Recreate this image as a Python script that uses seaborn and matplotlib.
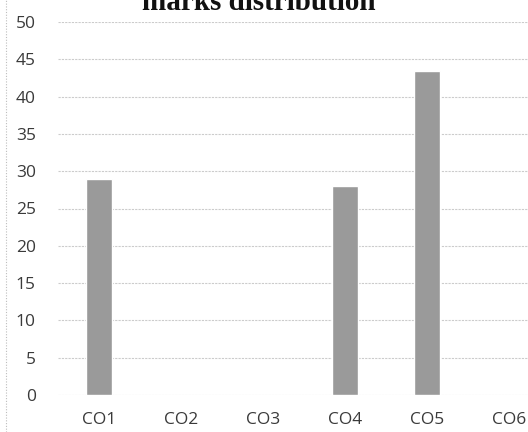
import matplotlib
matplotlib.use("Agg")
import matplotlib.pyplot as plt
import seaborn as sns
import pandas as pd
from matplotlib.lines import Line2D

categories = ["CO1", "CO2", "CO3", "CO4", "CO5", "CO6"]
values = [29, 0, 0, 28, 43.4, 0]
yticks = [0, 5, 10, 15, 20, 25, 30, 35, 40, 45, 50]
title = "marks distribution"

sns.set_theme(style="white")
plt.rcParams['font.family'] = ['Open Sans', 'DejaVu Sans']

df = pd.DataFrame({"CO": categories, "marks": values})

fig = plt.figure(figsize=(5.28, 4.32), dpi=100)
ax = fig.add_axes([58/528, 37/432, 492/528, 373/432])
ax.set_zorder(1)

sns.barplot(data=df, x="CO", y="marks", color="#9a9a9a", width=0.31,
            saturation=1, ax=ax, zorder=3)

ax.set_ylim(0, 50)
ax.set_yticks(yticks)
ax.set_yticklabels([str(t) for t in yticks])
ax.set_xlim(-0.5, 5.5)
ax.yaxis.grid(True, color="#cccccc", linewidth=0.8, linestyle=(0, (2, 1)), zorder=0)
ax.xaxis.grid(False)
for s in ax.spines.values():
    s.set_visible(False)
ax.tick_params(axis="y", length=0, pad=16, labelsize=12.5, labelcolor="#3a3a3a")
ax.tick_params(axis="x", length=0, pad=12, labelsize=12.5, labelcolor="#3a3a3a")
ax.set_xlabel("")
ax.set_ylabel("")

fig.text(0.49, 1 - 10/432, title, ha="center", va="baseline",
         fontsize=21, fontweight="bold", family=["Liberation Serif", "DejaVu Serif"],
         color="#111111")

fig.add_artist(Line2D([6/528, 6/528], [0, 1], transform=fig.transFigure,
                      color="#bdbdbd", linewidth=0.8, linestyle=(0, (1, 1.5))))

fig.savefig("out.png", dpi=100)
